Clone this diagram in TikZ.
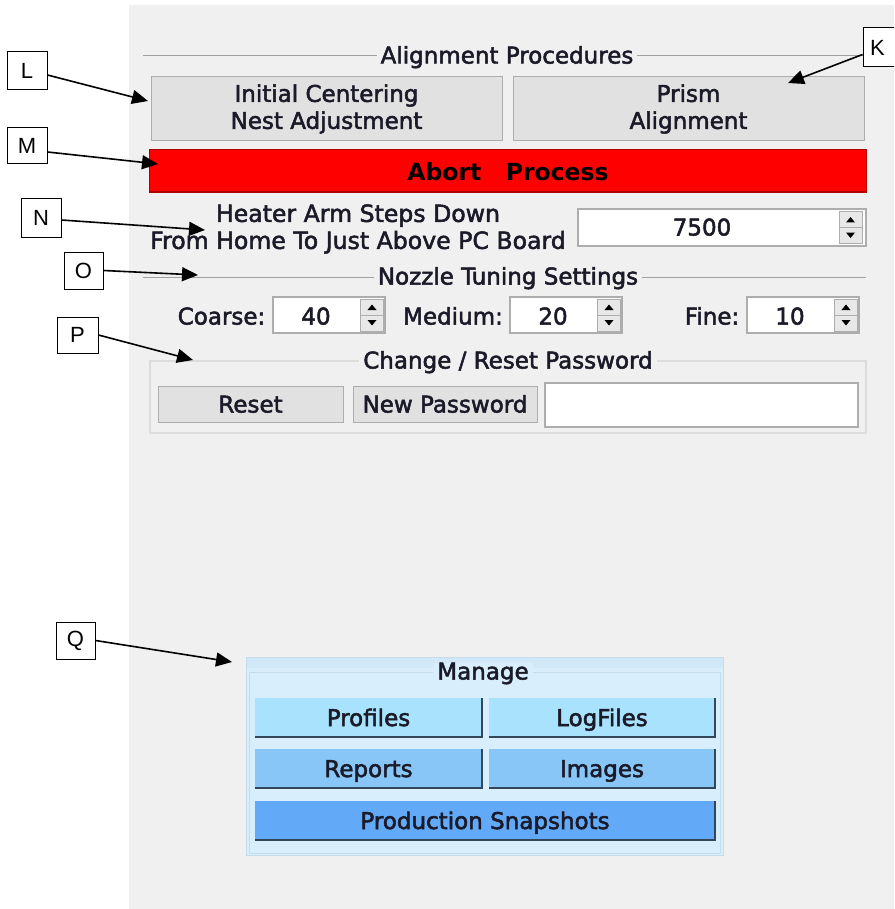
\documentclass[tikz,border=0pt]{standalone}
\usepackage{fontspec}
\newfontfamily\uifont{DejaVu Sans}
\newfontfamily\uiboldfont{DejaVu Sans}
\newfontfamily\lblfont{Liberation Sans}
\usetikzlibrary{arrows.meta}
\definecolor{panel}{HTML}{F0F0F0}
\definecolor{btnfill}{HTML}{E1E1E1}
\definecolor{btnline}{HTML}{ADADAD}
\definecolor{sepline}{HTML}{A0A0A0}
\definecolor{grpline}{HTML}{DCDCDC}
\definecolor{uitxt}{HTML}{1A1A28}
\definecolor{abortred}{HTML}{FF0000}
\definecolor{abortdark}{HTML}{B00000}
\definecolor{mgfill}{HTML}{D8EEFC}
\definecolor{mgline}{HTML}{C4DCEC}
\definecolor{mgtop}{HTML}{D0E8F8}
\definecolor{bluea}{HTML}{A8E2FC}
\definecolor{blueb}{HTML}{88C6F8}
\definecolor{bluec}{HTML}{62AAF8}
\definecolor{shade}{HTML}{34465A}
\definecolor{spinfill}{HTML}{E8E8E8}
\newcommand\uif{\uifont\fontsize{23}{27}\selectfont}
\newcommand\uifh{\uifont\fontsize{23.6}{27}\selectfont}
\newcommand\uifb{\uiboldfont\bfseries\fontsize{23.5}{27}\selectfont}
\newcommand\heavyon{\special{pdf:literal 2 Tr 0.5 w}}
\newcommand\heavyoff{\special{pdf:literal 0 Tr 1 w}}
\tikzset{
  heavy/.style={execute at begin node=\heavyon, execute at end node=\heavyoff},
  uitext/.style={heavy, font=\uif, text=uitxt, inner sep=0pt, text height=17pt, text depth=0pt},
  btn/.style={heavy, draw=btnline, fill=btnfill, line width=1pt, font=\uif, text=uitxt, align=center, inner sep=0pt},
  field/.style={draw=btnline, fill=white, line width=1.2pt, inner sep=0pt},
  sepl/.style={draw=sepline, line width=0.8pt},
  lbl/.style={draw=black, fill=white, line width=1pt, font=\lblfont\fontsize{22}{24}\selectfont, inner sep=0pt},
  callout/.style={draw=black, line width=1.6pt, -{Triangle[length=16pt,width=14pt]}},
  mbtn/.style={heavy, draw=none, font=\uif, text=uitxt, inner sep=0pt, text height=17pt, text depth=0pt},
  shadow/.style={draw=shade, line width=2pt},
  spin/.pic={
    \draw[btnline, fill=spinfill, line width=0.8pt] (-11.5,-16) rectangle (11.5,16);
    \draw[btnline, line width=0.8pt] (-11.5,0) -- (11.5,0);
    \fill[black] (-4.5,-5) -- (4.5,-5) -- (0,-10.5) -- cycle;
    \fill[black] (-4.5,5) -- (4.5,5) -- (0,10.5) -- cycle;
  }
}
\begin{document}
\begin{tikzpicture}[x=1pt,y=-1pt]
\clip (0,0) rectangle (894,909);
\useasboundingbox (0,0) rectangle (894,909);
\fill[white] (0,0) rectangle (894,909);
\fill[panel] (129,5) rectangle (894,909);

% Alignment procedures
\draw[sepl] (143,55) -- (866,55);
\node[uitext, fill=panel, inner xsep=4pt] (talign) at (507,55) {Alignment Procedures};
\node[btn, minimum width=351pt, minimum height=64pt] (init) at (326.5,109) {Initial Centering\\Nest Adjustment};
\node[btn, minimum width=351pt, minimum height=64pt] (prism) at (688.5,109) {Prism\\Alignment};

% Abort
\node[draw=abortdark, fill=abortred, line width=1pt, minimum width=717pt, minimum height=43pt, inner sep=0pt] (abort) at (507.5,171.5) {};
\draw[abortdark, line width=2pt] (149,192) -- (866,192);
\node[font=\uifb, text=black, inner sep=0pt, text height=17pt, text depth=0pt] (aborttxt) at (508,172) {Abort\ \ \ Process};

% Heater
\node[heavy, font=\uifh, text=uitxt, inner sep=0pt, align=center] (heat) at (358,229) {Heater Arm Steps Down\\From Home To Just Above PC Board};
\node[field, minimum width=288pt, minimum height=37pt] (steps) at (722,227.5) {};
\node[uitext] (stepsv) at (702,227) {7500};
\pic at (850.5,227.5) {spin};

% Nozzle tuning
\draw[sepl] (143,277) -- (866,277);
\node[uitext, fill=panel, inner xsep=4pt] (tnozzle) at (508,276) {Nozzle Tuning Settings};
\node[uitext] (coarse) at (221.5,316) {Coarse:};
\node[field, minimum width=112pt, minimum height=36pt] (coarsef) at (329,315) {};
\node[uitext] (coarsev) at (316,316) {40};
\pic at (372,315) {spin};
\node[uitext] (medium) at (453,316) {Medium:};
\node[field, minimum width=112pt, minimum height=36pt] (mediumf) at (566,315) {};
\node[uitext] (mediumv) at (553,316) {20};
\pic at (609,315) {spin};
\node[uitext] (fine) at (712,316) {Fine:};
\node[field, minimum width=112pt, minimum height=36pt] (finef) at (803,315) {};
\node[uitext] (finev) at (790,316) {10};
\pic at (846,315) {spin};

% Password
\draw[grpline, line width=1.2pt] (150,361) rectangle (866,433);
\node[uitext, fill=panel, inner xsep=4pt] (tpass) at (508,360) {Change / Reset Password};
\node[btn, minimum width=185pt, minimum height=36pt, text height=17pt, text depth=0pt] (reset) at (250.5,404) {Reset};
\node[btn, minimum width=184pt, minimum height=36pt, text height=17pt, text depth=0pt] (newpw) at (445,404) {New Password};
\node[field, minimum width=313pt, minimum height=44pt] (pwfield) at (701.5,405) {};

% Manage
\fill[mgfill] (246,657) rectangle (723,855);
\fill[mgtop] (246,657) rectangle (723,668);
\draw[mgline, line width=1pt] (246,657) rectangle (723,855);
\draw[mgline, line width=1pt] (249,853) -- (249,672) -- (720,672) -- (720,853) -- cycle;
\node[uitext, fill=mgfill, inner xsep=4pt] (tmanage) at (483,671) {Manage};
\node[mbtn, fill=bluea, minimum width=227pt, minimum height=39pt] (profiles) at (368.5,717.5) {Profiles};
\node[mbtn, fill=bluea, minimum width=226pt, minimum height=39pt] (logfiles) at (602,717.5) {LogFiles};
\node[mbtn, fill=blueb, minimum width=227pt, minimum height=39pt] (reports) at (368.5,768.5) {Reports};
\node[mbtn, fill=blueb, minimum width=226pt, minimum height=39pt] (images) at (602,768.5) {Images};
\node[mbtn, fill=bluec, minimum width=460pt, minimum height=39pt] (snap) at (485,820.5) {Production Snapshots};
\foreach \b in {profiles,logfiles,reports,images,snap}{
  \draw[shadow] (\b.south west) -- (\b.south east) -- (\b.north east);
}

% Labels
\node[lbl, minimum width=40pt, minimum height=38pt] (L) at (27,71) {L};
\node[lbl, minimum width=40pt, minimum height=36pt] (M) at (27,146) {M};
\node[lbl, minimum width=40pt, minimum height=38pt] (N) at (41,218) {N};
\node[lbl, minimum width=39pt, minimum height=37pt] (O) at (83.5,270.5) {O};
\node[lbl, minimum width=41pt, minimum height=36pt] (P) at (77.5,335) {P};
\node[lbl, minimum width=39pt, minimum height=37pt] (Q) at (75.5,640.5) {Q};
\node[lbl, minimum width=40pt, minimum height=39pt, text width=30pt, align=left] (K) at (883,47.5) {\hspace*{2pt}K};

\coordinate (tL) at (148,101);
\coordinate (tM) at (158,164);
\coordinate (tN) at (205,230);
\coordinate (tO) at (198,275);
\coordinate (tP) at (193,360);
\coordinate (tQ) at (232,662);
\coordinate (tK) at (788,83);
\draw[callout] ([yshift=-4pt]L.east) -- (tL);
\draw[callout] ([yshift=-6pt]M.east) -- (tM);
\draw[callout] ([yshift=-2pt]N.east) -- (tN);
\draw[callout] (O.east) -- (tO);
\draw[callout] (P.east) -- (tP);
\draw[callout] (Q.east) -- (tQ);
\draw[callout] ([yshift=-7pt]K.west) -- (tK);
\end{tikzpicture}
\end{document}
